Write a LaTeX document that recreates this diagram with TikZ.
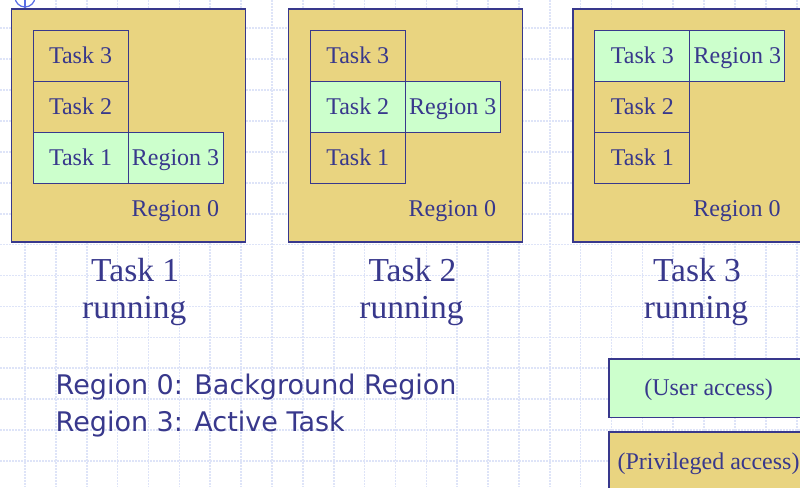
\documentclass[tikz,border=0pt]{standalone}
\usepackage{fontspec}
\setmainfont{Liberation Serif}
\newfontfamily\legendfont{DejaVu Sans}
\definecolor{txt}{RGB}{56,56,140}
\definecolor{tanfill}{RGB}{233,212,128}
\definecolor{ugreen}{RGB}{204,255,204}
\definecolor{gridc}{RGB}{222,228,248}
\definecolor{pinc}{RGB}{90,110,230}
\begin{document}
\begin{tikzpicture}[x=1pt,y=-1pt,
  gridline/.style={draw=gridc, line width=1.6pt, dash pattern=on 2pt off 1pt},
  regbox/.style={draw=txt, line width=1.5pt, fill=tanfill, minimum width=234pt, minimum height=233pt, anchor=north west, inner sep=0pt},
  cell/.style={draw=txt, line width=1.1pt, minimum width=95pt, minimum height=51pt, anchor=north west, inner sep=0pt, text=txt, font=\fontsize{24}{28}\selectfont, text height=15pt, text depth=0pt},
  privcell/.style={cell, fill=tanfill},
  usercell/.style={cell, fill=ugreen},
  rzero/.style={anchor=base east, inner sep=0pt, text=txt, font=\fontsize{24}{28}\selectfont},
  biglabel/.style={anchor=base, inner sep=0pt, text=txt, font=\fontsize{33.5}{37}\selectfont},
  legend/.style={anchor=base west, inner sep=0pt, text=txt, font=\legendfont\fontsize{27}{31}\selectfont},
  keybox/.style={draw=txt, line width=1.5pt, anchor=north west, inner sep=0pt, minimum width=199pt, text=txt, font=\fontsize{24}{28}\selectfont, text height=15pt, text depth=0pt}]
\useasboundingbox (0,0) rectangle (800,487);
\clip (0,0) rectangle (800,487);
\fill[white] (0,0) rectangle (800,487);
% grid
\foreach \n in {0,...,25} \draw[gridline] (25+\n*30.87,0) -- (25+\n*30.87,487);
\foreach \n in {0,...,14} \draw[gridline] (0,28.3+\n*30.9) -- (800,28.3+\n*30.9);
% pin mark
\draw[pinc, line width=1.2pt] (25,-3) circle (10pt);
\draw[pinc, line width=1.2pt] (25,-13) -- (25,8);
% Box 1: Task 1 running
\node[regbox] (r1) at (10.7,8.3) {};
\node[privcell] (r1t3) at (32.5,30) {Task 3};
\node[privcell] (r1t2) at (32.5,81) {Task 2};
\node[usercell] (r1t1) at (32.5,132) {Task 1};
\node[usercell] (r1r3) at (127.5,132) {Region 3};
\node[rzero] (r1r0) at (219.2,216.5) {Region 0};
\node[biglabel] (l1a) at (135.2,281.7) {Task 1};
\node[biglabel] (l1b) at (134.2,318.3) {running};
% Box 2: Task 2 running
\node[regbox] (r2) at (287.7,8.3) {};
\node[privcell] (r2t3) at (309.7,30) {Task 3};
\node[usercell] (r2t2) at (309.7,81) {Task 2};
\node[privcell] (r2t1) at (309.7,132) {Task 1};
\node[usercell] (r2r3) at (404.7,81) {Region 3};
\node[rzero] (r2r0) at (496.2,216.5) {Region 0};
\node[biglabel] (l2a) at (412.5,281.7) {Task 2};
\node[biglabel] (l2b) at (411.5,318.3) {running};
% Box 3: Task 3 running
\node[regbox] (r3) at (572.3,8.3) {};
\node[usercell] (r3t3) at (594.3,30) {Task 3};
\node[privcell] (r3t2) at (594.3,81) {Task 2};
\node[privcell] (r3t1) at (594.3,132) {Task 1};
\node[usercell] (r3r3) at (689.3,30) {Region 3};
\node[rzero] (r3r0) at (780.8,216.5) {Region 0};
\node[biglabel] (l3a) at (697,281.7) {Task 3};
\node[biglabel] (l3b) at (696,318.3) {running};
% legend
\node[legend] (lg1) at (55.5,394.3) {Region 0: Background Region};
\node[legend] (lg2) at (55.5,431.7) {Region 3: Active Task};
\node[keybox, fill=ugreen, minimum height=58.4pt] (kuser) at (608.3,358.3) {(User access)};
\node[keybox, fill=tanfill, minimum height=60pt] (kpriv) at (608.3,431) {(Privileged access)};
\end{tikzpicture}
\end{document}
